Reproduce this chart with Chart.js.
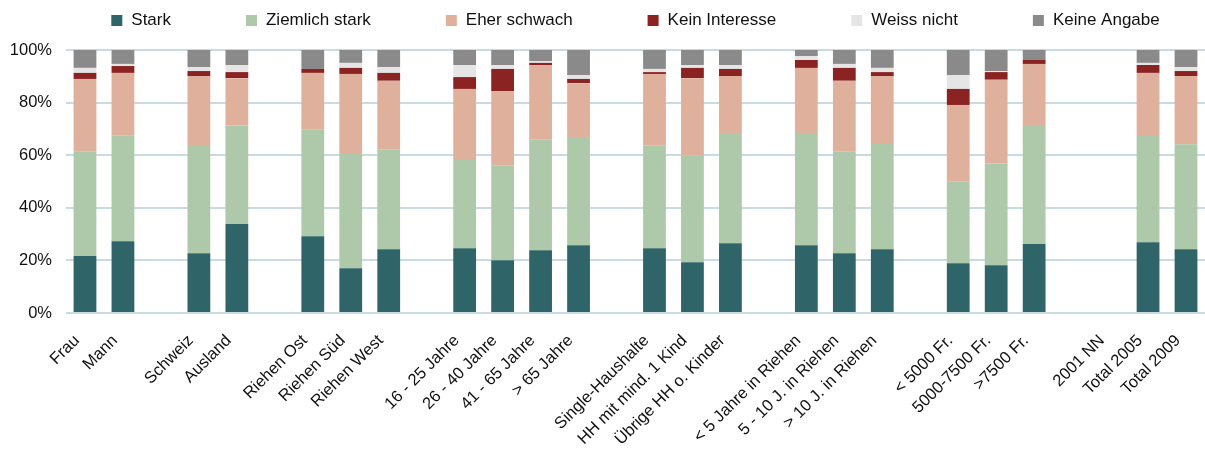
<!DOCTYPE html>
<html>
<head>
<meta charset="utf-8">
<script src="https://cdn.jsdelivr.net/npm/chart.js@4.4.1/dist/chart.umd.min.js"></script>
<style>
    html, body { margin: 0; padding: 0; background: #fff; }
    #wrap { width: 1205px; height: 456px; }
</style>
</head>
<body>
<div id="wrap"><canvas id="chartInteresse"></canvas></div>
<script>
// Kategorien (leere Einträge = Lücken zwischen den Gruppen)
const kategorien = [
    'Frau', 'Mann', '',
    'Schweiz', 'Ausland', '',
    'Riehen Ost', 'Riehen Süd', 'Riehen West', '',
    '16 - 25 Jahre', '26 - 40 Jahre', '41 - 65 Jahre', '> 65 Jahre', '',
    'Single-Haushalte', 'HH mit mind. 1 Kind', 'Übrige HH o. Kinder', '',
    '< 5 Jahre in Riehen', '5 - 10 J. in Riehen', '> 10 J. in Riehen', '',
    '< 5000 Fr.', '5000-7500 Fr.', '>7500 Fr.', '',
    '2001 NN', 'Total 2005', 'Total 2009'
];

// Anteile in %
const stark = [21.7, 27.3, null, 22.7, 33.8, null, 29.2, 17.0, 24.2, null, 24.6, 20.1, 23.9, 25.8, null, 24.6, 19.3, 26.5, null, 25.8, 22.7, 24.2, null, 18.9, 18.2, 26.2, null, null, 26.9, 24.2];
const ziemlichStark = [39.6, 40.3, null, 40.8, 37.5, null, 40.7, 43.5, 38.1, null, 33.6, 35.9, 42.0, 41.1, null, 39.0, 40.5, 41.9, null, 42.6, 38.6, 40.1, null, 31.2, 38.6, 45.3, null, null, 40.4, 40.0];
const eherSchwach = [27.7, 23.7, null, 26.6, 18.0, null, 21.4, 30.4, 26.0, null, 27.0, 28.4, 28.4, 20.5, null, 27.3, 29.5, 21.7, null, 24.8, 27.0, 25.8, null, 29.0, 31.9, 23.2, null, null, 24.0, 25.9];
const keinInteresse = [2.3, 2.6, null, 1.9, 2.3, null, 1.5, 2.3, 3.0, null, 4.5, 8.4, 0.8, 1.6, null, 0.7, 3.9, 2.7, null, 3.0, 4.9, 1.5, null, 6.1, 2.9, 1.5, null, null, 3.0, 1.9];
const weissNicht = [1.9, 0.8, null, 1.5, 2.7, null, 0, 1.9, 2.2, null, 4.6, 1.5, 0.7, 1.5, null, 1.2, 1.1, 1.5, null, 1.5, 1.5, 1.6, null, 5.3, 0.4, 0, null, null, 0.8, 1.5];
const keineAngabe = [6.8, 5.3, null, 6.5, 5.7, null, 7.2, 4.9, 6.5, null, 5.7, 5.7, 4.2, 9.5, null, 7.2, 5.7, 5.7, null, 2.3, 5.3, 6.8, null, 9.5, 8.0, 3.8, null, null, 4.9, 6.5];

const yTicks = [0, 20, 40, 60, 80, 100];

const serien = [
    { label: 'Stark', data: stark, color: '#2f6569' },
    { label: 'Ziemlich stark', data: ziemlichStark, color: '#aec9a9' },
    { label: 'Eher schwach', data: eherSchwach, color: '#dfb09c' },
    { label: 'Kein Interesse', data: keinInteresse, color: '#8b2323' },
    { label: 'Weiss nicht', data: weissNicht, color: '#e5e5e5' },
    { label: 'Keine Angabe', data: keineAngabe, color: '#8a8a8a' }
];

const schrift = "'Liberation Sans', Arial, sans-serif";

// Legende oben, über dem Plotbereich zentriert
const legendePlugin = {
    id: 'legendeOben',
    afterDraw(chart) {
        const c = chart.ctx;
        const area = chart.chartArea;
        c.save();
        c.font = '17px ' + schrift;
        const box = 11, gapText = 9, gapItem = 75;
        let breiten = serien.map(s => box + gapText + c.measureText(s.label).width);
        let total = breiten.reduce((a, b) => a + b, 0) + gapItem * (serien.length - 1);
        let x = (area.left + area.right) / 2 - total / 2;
        c.textBaseline = 'alphabetic';
        c.textAlign = 'left';
        serien.forEach((s, i) => {
            c.fillStyle = s.color;
            c.fillRect(x, 15, box, box);
            c.fillStyle = '#111';
            c.fillText(s.label, x + box + gapText, 25);
            x += breiten[i] + gapItem;
        });
        c.restore();
    }
};

const ctx = document.getElementById('chartInteresse').getContext('2d');
const chart = new Chart(ctx, {
    type: 'bar',
    data: {
        labels: kategorien,
        datasets: serien.map(s => ({
            label: s.label,
            data: s.data,
            backgroundColor: s.color,
            borderWidth: 0,
            categoryPercentage: 1,
            barPercentage: 0.6
        }))
    },
    options: {
        responsive: true,
        maintainAspectRatio: false,
        animation: false,
        layout: { padding: { top: 50, right: 0, bottom: 0, left: 0 } },
        plugins: {
            legend: { display: false },
            title: { display: false },
            tooltip: { enabled: false }
        },
        scales: {
            x: {
                stacked: true,
                grid: { display: false, drawTicks: false },
                border: { display: false },
                ticks: {
                    autoSkip: false,
                    minRotation: 45,
                    maxRotation: 45,
                    padding: 18,
                    labelOffset: -8,
                    color: '#111',
                    font: { family: schrift, size: 16.5 }
                },
                afterFit(scale) {
                    scale.height = 143;
                    scale.paddingLeft = 0;
                    scale.paddingRight = 0;
                }
            },
            y: {
                stacked: true,
                min: 0,
                max: 100,
                afterBuildTicks(scale) {
                    scale.ticks = yTicks.map(v => ({ value: v }));
                },
                grid: { color: '#c9dbe2', lineWidth: 2, drawTicks: false },
                border: { display: false },
                ticks: {
                    padding: 14,
                    color: '#111',
                    font: { family: schrift, size: 16.5 },
                    callback: function(value) {
                        return value + '%';
                    }
                },
                afterFit(scale) {
                    scale.width = 66;
                }
            }
        }
    },
    plugins: [legendePlugin]
});
</script>
</body>
</html>
